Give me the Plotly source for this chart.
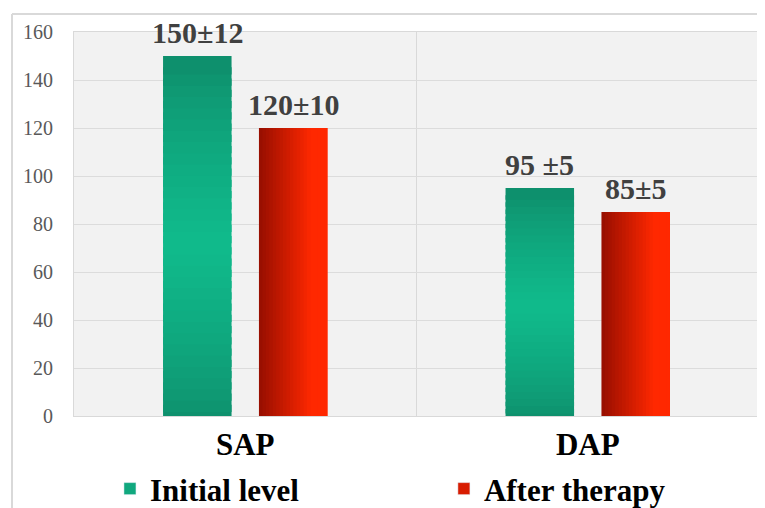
import plotly.graph_objects as go

categories = ["SAP", "DAP"]
initial_level = [150, 95]
after_therapy = [120, 85]
initial_labels = ["150±12", "95 ±5"]
after_labels = ["120±10", "85±5"]
series_names = ["Initial level", "After therapy"]
y_ticks = [0, 20, 40, 60, 80, 100, 120, 140, 160]

SERIF = "Liberation Serif"
BAR_W = 0.2
OFF_G = -0.24
OFF_R = 0.04


def lerp(c1, c2, t):
    return "#%02x%02x%02x" % tuple(int(round(a + (b - a) * t)) for a, b in zip(c1, c2))


fig = go.Figure()

# green bars: vertical gradient (dark top/bottom, bright middle)
NG = 32
g_dark = (14, 140, 106)
g_light = (16, 187, 140)
for k in range(NG):
    f0 = max(0, k / NG - 0.02)
    f1 = (k + 1) / NG
    mid = (k + 0.5) / NG
    t = 1 - min(1, abs(mid - 0.5) / 0.5)
    col = lerp(g_dark, g_light, t ** 0.7)
    fig.add_trace(go.Bar(
        x=categories,
        y=[v * (f1 - f0) for v in initial_level],
        base=[v * f0 for v in initial_level],
        width=BAR_W, offset=OFF_G,
        marker=dict(color=col, line=dict(width=0)),
        name=series_names[0], showlegend=False, hoverinfo="skip",
    ))

# red bars: horizontal gradient (dark left -> bright right)
NR = 20
r_dark = (150, 14, 0)
r_bright = (255, 40, 0)
for k in range(NR):
    t = (k + 0.5) / NR
    col = lerp(r_dark, r_bright, min(1, t * 1.3))
    w = BAR_W / NR * (2.0 if k < NR - 1 else 1.0)
    fig.add_trace(go.Bar(
        x=categories,
        y=after_therapy,
        width=w, offset=OFF_R + BAR_W * k / NR,
        marker=dict(color=col, line=dict(width=0)),
        name=series_names[1], showlegend=False, hoverinfo="skip",
    ))

# legend-only entries
fig.add_trace(go.Bar(x=[None], y=[None], name=series_names[0],
                     marker=dict(color="#10a87e"), legend="legend"))
fig.add_trace(go.Bar(x=[None], y=[None], name=series_names[1],
                     marker=dict(color="#d81c00"), legend="legend2"))

annotations = []
for cat, v, lab in zip(categories, initial_level, initial_labels):
    annotations.append(dict(x=cat, y=v, xref="x", yref="y", text=lab,
                            showarrow=False, xshift=-48, yshift=5,
                            yanchor="bottom",
                            font=dict(family=SERIF, size=30, color="#404040",
                                      weight="bold")))
for cat, v, lab in zip(categories, after_therapy, after_labels):
    annotations.append(dict(x=cat, y=v, xref="x", yref="y", text=lab,
                            showarrow=False, xshift=48, yshift=5,
                            yanchor="bottom",
                            font=dict(family=SERIF, size=30, color="#404040",
                                      weight="bold")))

leg_font = dict(family=SERIF, size=31, color="black", weight="bold")
fig.update_layout(
    width=765, height=508,
    margin=dict(l=66, r=14, t=24, b=100, autoexpand=False),
    paper_bgcolor="white",
    plot_bgcolor="#f2f2f2",
    barmode="overlay",
    showlegend=True,
    legend=dict(orientation="h", x=0.0525, xanchor="left", y=-0.19,
                yanchor="middle", font=leg_font, itemwidth=30,
                bgcolor="rgba(0,0,0,0)"),
    legend2=dict(orientation="h", x=0.54, xanchor="left", y=-0.19,
                 yanchor="middle", font=leg_font, itemwidth=30,
                 bgcolor="rgba(0,0,0,0)"),
    annotations=annotations,
    xaxis=dict(
        type="category", tickson="boundaries", showgrid=True,
        gridcolor="#d9d9d9", gridwidth=1, ticks="",
        tickfont=dict(family=SERIF, size=31, color="black", weight="bold"),
        showline=True, linecolor="#d9d9d9", mirror=True,
        range=[-0.5, 1.5], ticklabelstandoff=1,
    ),
    yaxis=dict(
        range=[0, 160], tickvals=y_ticks, showgrid=True,
        gridcolor="#dcdcdc", gridwidth=1, ticks="", zeroline=False,
        tickfont=dict(family=SERIF, size=20, color="#595959"),
        showline=True, linecolor="#d9d9d9", mirror=True,
        ticklabelstandoff=16,
    ),
    shapes=[
        dict(type="line", xref="paper", yref="paper", x0=-0.0905, x1=1.03,
             y0=1.047, y1=1.047, line=dict(color="#d9d9d9", width=2)),
        dict(type="line", xref="paper", yref="paper", x0=-0.0905, x1=-0.0905,
             y0=1.047, y1=-0.3, line=dict(color="#d9d9d9", width=2)),
    ],
)

fig.write_html("out.html")
